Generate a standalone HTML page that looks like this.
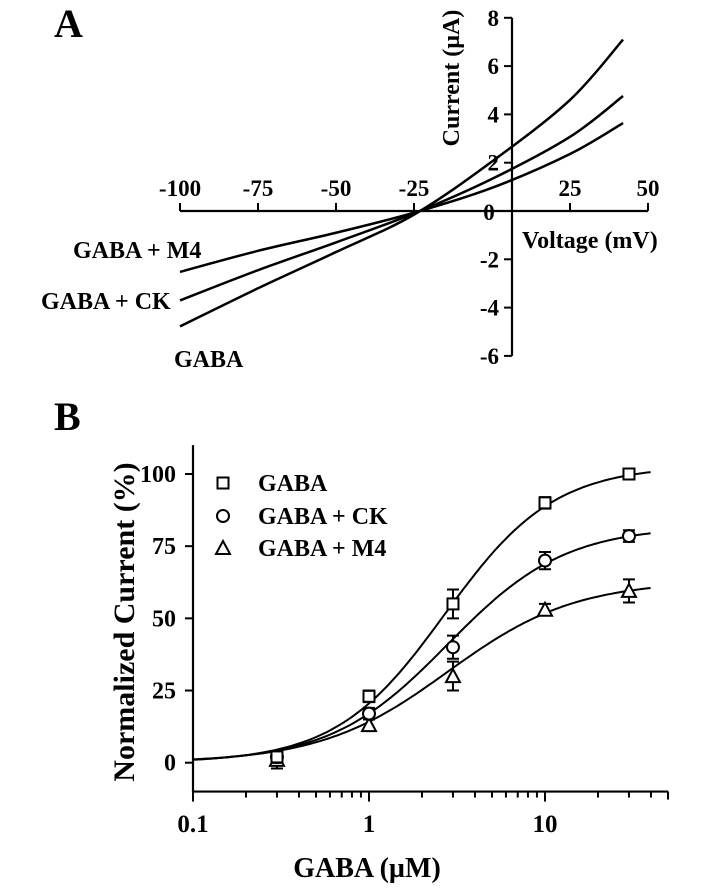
<!DOCTYPE html>
<html><head><meta charset="utf-8"><style>
html,body{margin:0;padding:0;background:#fff;}
svg{display:block;font-family:"Liberation Serif",serif;font-weight:bold;}
</style></head><body>
<svg width="708" height="888" viewBox="0 0 708 888" id="fig">
<text x="54" y="37" font-size="40">A</text>
<text x="54" y="430" font-size="40">B</text>
<g id="pa"></g>
<g id="pb"></g>
</svg>
<script>
// ---- Panel A data ----
const ivVoltages = [-100, -75, -50, -25, 0, 25, 42];
const ivGABA = [-4.78, -3.2, -1.7, -0.15, 2.05, 4.6, 7.1];
const ivCK = [-3.7, -2.45, -1.3, -0.1, 1.33, 3.07, 4.76];
const ivM4 = [-2.52, -1.65, -0.9, -0.07, 0.96, 2.36, 3.64];
const ivXTicks = [-100, -75, -50, -25, 25, 50];
const ivYTicks = [8, 6, 4, 2, -2, -4, -6];
// ---- Panel B data ----
const drConc = [0.3, 1, 3, 10, 30];
const drGABA = [2, 23, 55, 90, 100];
const drGABAErr = [2, 2, 5, 2, 1];
const drCK = [2, 17, 40, 70, 78.5];
const drCKErr = [2, 2, 4, 3, 2];
const drM4 = [1, 13, 30, 53, 59.5];
const drM4Err = [3, 2, 5, 2, 4];
const fitMax = [103, 82, 63];
const fitEC50 = [2.7, 2.8, 2.8];
const fitHill = [1.4, 1.3, 1.2];
const drXTicks = [0.1, 1, 10];
const drYTicks = [0, 25, 50, 75, 100];

const NS = "http://www.w3.org/2000/svg";
function mk(parent, tag, attrs, txt) {
  const e = document.createElementNS(NS, tag);
  for (const k in attrs) e.setAttribute(k, attrs[k]);
  if (txt !== undefined) e.textContent = txt;
  parent.appendChild(e);
  return e;
}
function catmull(pts) {
  let d = "M" + pts[0][0].toFixed(1) + "," + pts[0][1].toFixed(1);
  for (let i = 0; i < pts.length - 1; i++) {
    const p0 = pts[Math.max(0, i - 1)], p1 = pts[i], p2 = pts[i + 1], p3 = pts[Math.min(pts.length - 1, i + 2)];
    const c1 = [p1[0] + (p2[0] - p0[0]) / 6, p1[1] + (p2[1] - p0[1]) / 6];
    const c2 = [p2[0] - (p3[0] - p1[0]) / 6, p2[1] - (p3[1] - p1[1]) / 6];
    d += "C" + c1.join(",") + " " + c2.join(",") + " " + p2.join(",");
  }
  return d;
}
// ---- Panel A ----
const pa = document.getElementById("pa");
const ax = v => 492 + (v * 78 / 25);
const ay = i => 211 - i * 24.15;
const yAxisX = 512;
let e;
e = mk(pa, "line", {x1: ax(-100), y1: ay(0), x2: ax(50), y2: ay(0), stroke: "#000", "stroke-width": 2.2});


e = mk(pa, "line", {x1: yAxisX, y1: ay(8), x2: yAxisX, y2: ay(-6), stroke: "#000", "stroke-width": 2.2});


ivXTicks.forEach(t => {
  mk(pa, "line", {x1: ax(t), y1: ay(0), x2: ax(t), y2: ay(0) - 8, stroke: "#000", "stroke-width": 2});
  const l = mk(pa, "text", {x: ax(t), y: 196, "font-size": 23, "text-anchor": "middle"}, String(t));
  
  
});
ivYTicks.forEach(t => {
  mk(pa, "line", {x1: yAxisX - 8, y1: ay(t), x2: yAxisX, y2: ay(t), stroke: "#000", "stroke-width": 2});
  const l = mk(pa, "text", {x: 499, y: ay(t) + 8, "font-size": 23, "text-anchor": "end"}, String(t));
  
  
});
e = mk(pa, "text", {x: 489, y: 220, "font-size": 23, "text-anchor": "middle"}, "0");


e = mk(pa, "text", {x: 0, y: 0, "font-size": 24, "text-anchor": "middle", transform: "translate(459,78) rotate(-90)"}, "Current (µA)");


e = mk(pa, "text", {x: 522, y: 248, "font-size": 24}, "Voltage (mV)");


[[ivGABA, "iv-curve-gaba"], [ivCK, "iv-curve-ck"], [ivM4, "iv-curve-m4"]].forEach(([s, n]) => {
  const p = mk(pa, "path", {d: catmull(ivVoltages.map((v, i) => [ax(v), ay(s[i])])), fill: "none", stroke: "#000", "stroke-width": 2.5});
  
  
});
e = mk(pa, "text", {x: 73, y: 258, "font-size": 24}, "GABA + M4");


e = mk(pa, "text", {x: 41, y: 309, "font-size": 24}, "GABA + CK");


e = mk(pa, "text", {x: 174, y: 367, "font-size": 24}, "GABA");



// ---- Panel B ----
const pb = document.getElementById("pb");
const bx = c => 193 + 176 * Math.log10(c / 0.1);
const by = v => 762.7 - 2.887 * v;
e = mk(pb, "line", {x1: bx(0.1), y1: by(-10), x2: bx(50), y2: by(-10), stroke: "#000", "stroke-width": 2.2});


e = mk(pb, "line", {x1: bx(0.1), y1: by(110), x2: bx(0.1), y2: by(-10), stroke: "#000", "stroke-width": 2.2});


for (let dec = 0.1; dec < 50; dec *= 10) {
  for (let m = 1; m <= 9; m++) {
    const c = dec * m;
    if (c > 50.01) break;
    mk(pb, "line", {x1: bx(c), y1: by(-10), x2: bx(c), y2: by(-10) + (m === 1 ? 10 : 6), stroke: "#000", "stroke-width": 2});
  }
}
mk(pb, "line", {x1: bx(50), y1: by(-10), x2: bx(50), y2: by(-10) + 8, stroke: "#000", "stroke-width": 2});
drXTicks.forEach(t => {
  const l = mk(pb, "text", {x: bx(t), y: 832, "font-size": 25, "text-anchor": "middle"}, String(t));
  
  
});
drYTicks.forEach(t => {
  mk(pb, "line", {x1: bx(0.1) - 8, y1: by(t), x2: bx(0.1), y2: by(t), stroke: "#000", "stroke-width": 2});
  const l = mk(pb, "text", {x: 176, y: by(t) + 8, "font-size": 24, "text-anchor": "end"}, String(t));
  
  
});
e = mk(pb, "text", {x: 0, y: 0, "font-size": 30, "text-anchor": "middle", transform: "translate(134,622) rotate(-90)"}, "Normalized Current (%)");


e = mk(pb, "text", {x: 367, y: 877, "font-size": 28, "text-anchor": "middle"}, "GABA (µM)");


// fits
["fit-gaba", "fit-ck", "fit-m4"].forEach((n, k) => {
  const pts = [];
  for (let lg = -1; lg <= Math.log10(40) + 1e-9; lg += 0.02) {
    const c = Math.pow(10, lg);
    pts.push([bx(c).toFixed(1), by(fitMax[k] / (1 + Math.pow(fitEC50[k] / c, fitHill[k]))).toFixed(1)]);
  }
  const p = mk(pb, "polyline", {points: pts.map(q => q.join(",")).join(" "), fill: "none", stroke: "#000", "stroke-width": 2});
  
  
});
function marker(g, shape, x, y) {
  if (shape === "sq") return mk(g, "rect", {x: x - 5.5, y: y - 5.5, width: 11, height: 11, fill: "#fff", stroke: "#000", "stroke-width": 2});
  if (shape === "ci") return mk(g, "circle", {cx: x, cy: y, r: 6, fill: "#fff", stroke: "#000", "stroke-width": 2});
  return mk(g, "polygon", {points: `${x},${y - 7} ${x - 7},${y + 6} ${x + 7},${y + 6}`, fill: "#fff", stroke: "#000", "stroke-width": 2});
}
[[drM4, drM4Err, "tr", "point-gaba-m4"], [drCK, drCKErr, "ci", "point-gaba-ck"], [drGABA, drGABAErr, "sq", "point-gaba"]].forEach(([vals, errs, shape, n]) => {
  drConc.forEach((c, i) => {
    const x = bx(c), y = by(vals[i]), e1 = by(vals[i] + errs[i]), e2 = by(vals[i] - errs[i]);
    const g = mk(pb, "g", {});
    
    
    mk(g, "path", {d: `M${x},${e1}V${e2}M${x - 6},${e1}H${x + 6}M${x - 6},${e2}H${x + 6}`, stroke: "#000", "stroke-width": 2, fill: "none"});
    marker(g, shape, x, y);
  });
});
// legend
[["sq", "GABA", 483, "legend-gaba"], ["ci", "GABA + CK", 516, "legend-gaba-ck"], ["tr", "GABA + M4", 548, "legend-gaba-m4"]].forEach(([s, t, y, n]) => {
  const g = mk(pb, "g", {});
  
  
  marker(g, s, 223, y);
  mk(g, "text", {x: 258, y: y + 8, "font-size": 24}, t);
});
</script>
</body></html>
